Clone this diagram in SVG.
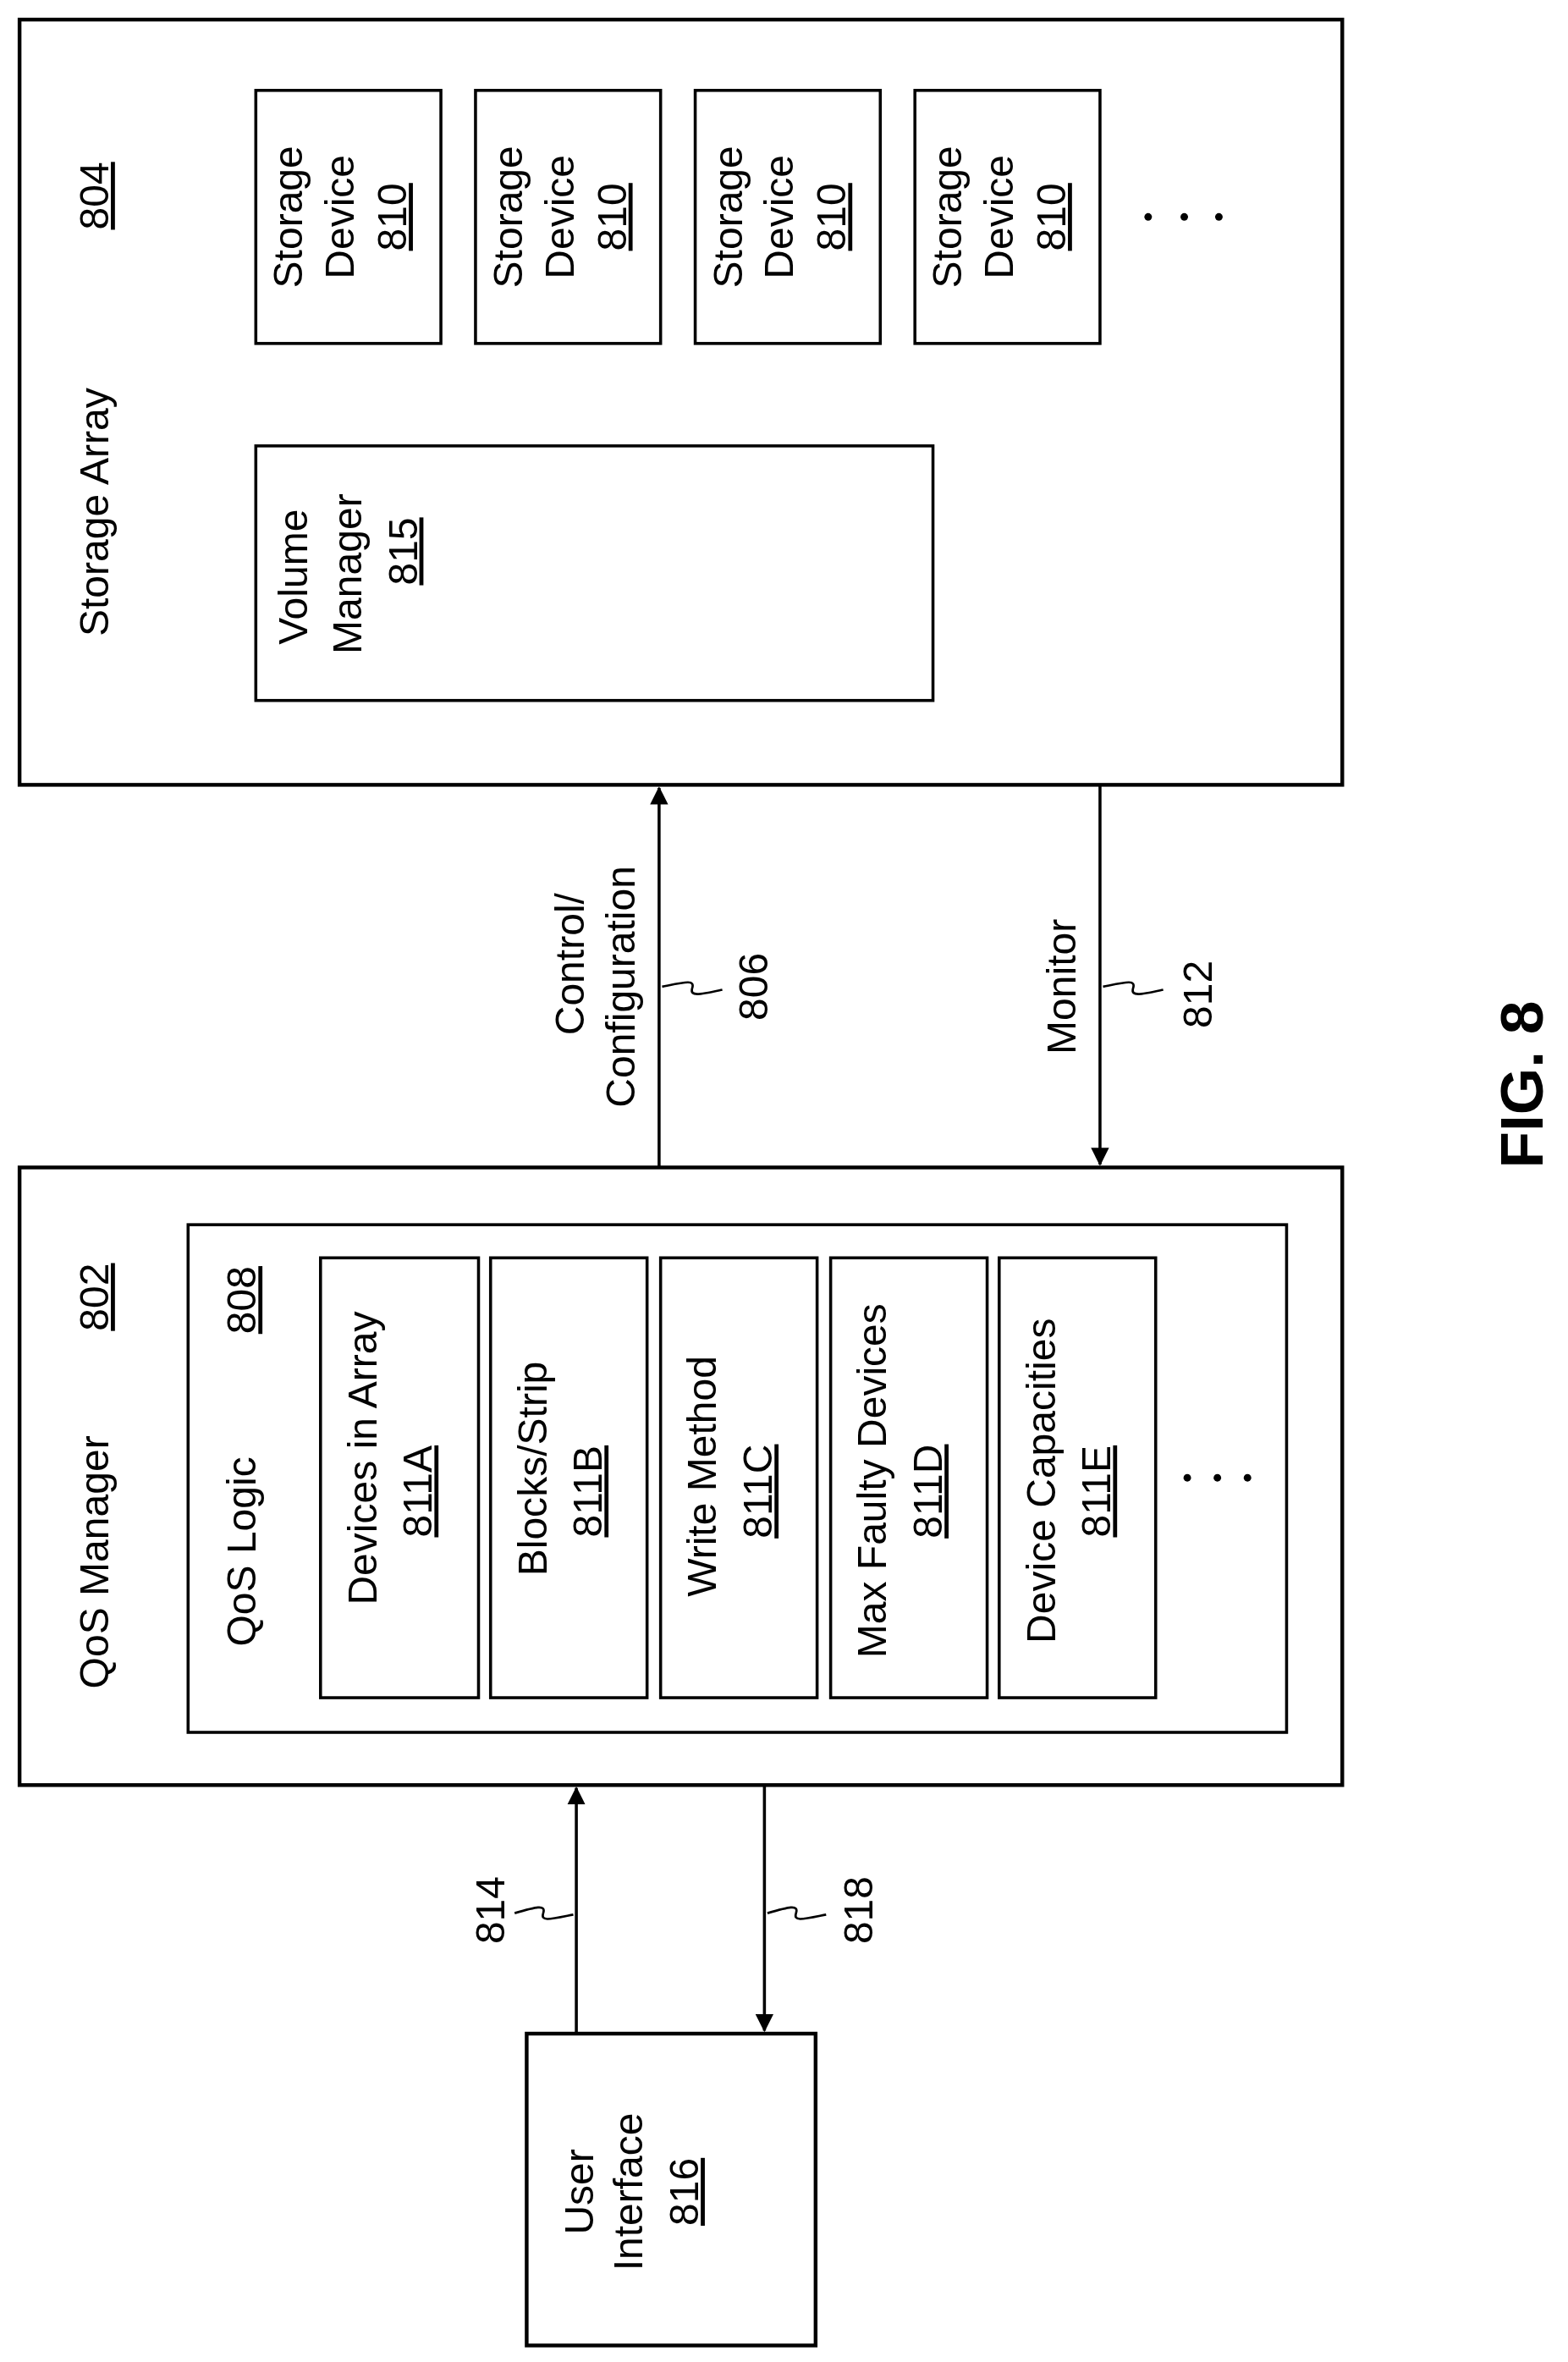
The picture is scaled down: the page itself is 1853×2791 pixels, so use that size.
<svg xmlns="http://www.w3.org/2000/svg" width="1853" height="2791" viewBox="0 0 1853 2791">
<defs>
<style>
.b{fill:#fff;stroke:#000;stroke-width:2.5}
.i{fill:#fff;stroke:#000;stroke-width:2}
text{font-family:"Liberation Sans",Arial,sans-serif;font-size:27px;fill:#000;text-anchor:middle}
.u{text-decoration:underline}
.c{fill:none;stroke:#000;stroke-width:2}
.s{fill:none;stroke:#000;stroke-width:1.5}
.d{fill:#000}
</style>
<marker id="ah" markerWidth="12" markerHeight="12" refX="11" refY="6" orient="auto" markerUnits="userSpaceOnUse"><path d="M0,0 L12,6 L0,12 Z" fill="#000"/></marker>
</defs>
<rect width="1853" height="2791" fill="#fff"/>
<g transform="scale(1.7783,1.78)">
<g id="storage-array">
<rect class="b" x="13" y="13" width="879" height="508"/>
<text transform="translate(72,340) rotate(-90)">Storage Array</text>
<text class="u" transform="translate(72,130) rotate(-90)">804</text>
<circle class="d" cx="763" cy="144" r="2.5"/><circle class="d" cx="787" cy="144" r="2.5"/><circle class="d" cx="810" cy="144" r="2.5"/>
</g>
<g id="sd1"><rect class="i" x="170" y="60" width="123" height="168"/>
<text transform="translate(201,144) rotate(-90)">Storage</text><text transform="translate(235,144) rotate(-90)">Device</text><text class="u" transform="translate(270,144) rotate(-90)">810</text></g>
<g id="sd2"><rect class="i" x="316" y="60" width="123" height="168"/>
<text transform="translate(347,144) rotate(-90)">Storage</text><text transform="translate(381,144) rotate(-90)">Device</text><text class="u" transform="translate(416,144) rotate(-90)">810</text></g>
<g id="sd3"><rect class="i" x="462" y="60" width="123" height="168"/>
<text transform="translate(493,144) rotate(-90)">Storage</text><text transform="translate(527,144) rotate(-90)">Device</text><text class="u" transform="translate(562,144) rotate(-90)">810</text></g>
<g id="sd4"><rect class="i" x="608" y="60" width="123" height="168"/>
<text transform="translate(639,144) rotate(-90)">Storage</text><text transform="translate(673,144) rotate(-90)">Device</text><text class="u" transform="translate(708,144) rotate(-90)">810</text></g>
<g id="volume-manager"><rect class="i" x="170" y="296" width="450" height="169"/>
<text transform="translate(204,383) rotate(-90)">Volume</text><text transform="translate(240,381) rotate(-90)">Manager</text><text class="u" transform="translate(277,366) rotate(-90)">815</text></g>

<g id="qos-manager">
<rect class="b" x="13" y="775" width="879" height="410"/>
<text transform="translate(72,1037) rotate(-90)">QoS Manager</text>
<text class="u" transform="translate(72,861) rotate(-90)">802</text>
</g>
<g id="qos-logic">
<rect class="i" x="125" y="813" width="730" height="337"/>
<text transform="translate(170,1030) rotate(-90)">QoS Logic</text>
<text class="u" transform="translate(170,863) rotate(-90)">808</text>
<circle class="d" cx="789" cy="981" r="2.5"/><circle class="d" cx="809" cy="981" r="2.5"/><circle class="d" cx="829" cy="981" r="2.5"/>
</g>
<g id="p811A"><rect class="i" x="213" y="835" width="105" height="292"/>
<text transform="translate(250,968) rotate(-90)">Devices in Array</text><text class="u" transform="translate(287,990) rotate(-90)">811A</text></g>
<g id="p811B"><rect class="i" x="326" y="835" width="104" height="292"/>
<text transform="translate(363,975) rotate(-90)">Blocks/Strip</text><text class="u" transform="translate(400,990) rotate(-90)">811B</text></g>
<g id="p811C"><rect class="i" x="439" y="835" width="104" height="292"/>
<text transform="translate(476,980) rotate(-90)">Write Method</text><text class="u" transform="translate(513,990) rotate(-90)">811C</text></g>
<g id="p811D"><rect class="i" x="552" y="835" width="104" height="292"/>
<text transform="translate(589,983) rotate(-90)">Max Faulty Devices</text><text class="u" transform="translate(626,990) rotate(-90)">811D</text></g>
<g id="p811E"><rect class="i" x="664" y="835" width="104" height="292"/>
<text transform="translate(701,983) rotate(-90)">Device Capacities</text><text class="u" transform="translate(738,990) rotate(-90)">811E</text></g>

<g id="user-interface"><rect class="b" x="350" y="1350" width="192" height="207"/>
<text transform="translate(394,1455) rotate(-90)">User</text><text transform="translate(427,1455) rotate(-90)">Interface</text><text class="u" transform="translate(464,1455) rotate(-90)">816</text></g>

<g id="connectors">
<line class="c" x1="438" y1="775" x2="438" y2="523" marker-end="url(#ah)"/>
<line class="c" x1="731" y1="521" x2="731" y2="773" marker-end="url(#ah)"/>
<line class="c" x1="383" y1="1350" x2="383" y2="1187" marker-end="url(#ah)"/>
<line class="c" x1="508" y1="1185" x2="508" y2="1348" marker-end="url(#ah)"/>
<path class="s" d="M440,655 C455,652 462,650 460,656 C458,662 466,660 480,657"/>
<path class="s" d="M733,655 C748,652 755,650 753,656 C751,662 759,660 773,657"/>
<path class="s" d="M342,1270 C356,1266 363,1264 361,1270 C359,1276 366,1274 381,1271"/>
<path class="s" d="M510,1270 C524,1266 531,1264 529,1270 C527,1276 534,1274 549,1271"/>
<text transform="translate(388,640) rotate(-90)">Control/</text>
<text transform="translate(422,655) rotate(-90)">Configuration</text>
<text transform="translate(510,655) rotate(-90)">806</text>
<text transform="translate(715,655) rotate(-90)">Monitor</text>
<text transform="translate(805,660) rotate(-90)">812</text>
<text transform="translate(335,1268) rotate(-90)">814</text>
<text transform="translate(580,1268) rotate(-90)">818</text>
</g>
<text transform="translate(1025,720) rotate(-90)" style="font-size:40px;font-weight:bold">FIG. 8</text>
</g>
</svg>
